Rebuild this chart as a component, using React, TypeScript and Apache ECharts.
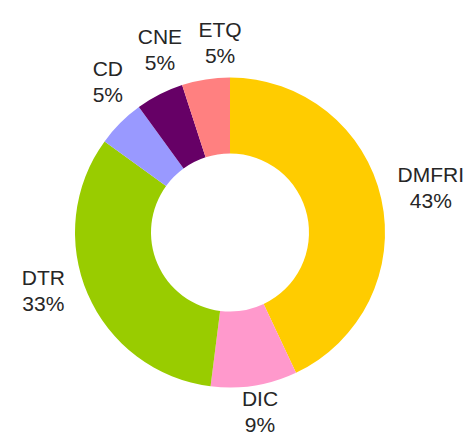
import React, { useEffect, useRef } from "react";
import * as echarts from "echarts";

const categories = ["DMFRI", "DIC", "DTR", "CD", "CNE", "ETQ"];
const values = [43, 9, 33, 5, 5, 5];
const colors = ["#FFCC00", "#FF99CC", "#99CC00", "#9999FF", "#660066", "#FF8080"];

const W = 474;
const H = 440;
const CX = 230;
const CY = 232.5;
const R_IN = 79;
const R_OUT = 155;
const GAP = 14;
const LEFT_LABEL_ROT = (6 * Math.PI) / 180;

export default function App() {
  const ref = useRef<HTMLDivElement>(null);
  useEffect(() => {
    if (!ref.current) return;
    const chart = echarts.init(ref.current, undefined, { renderer: "svg" });
    const total = values.reduce((a, b) => a + b, 0);
    const mids: number[] = [];
    let acc = 0;
    values.forEach((v) => {
      mids.push(((acc + v / 2) / total) * Math.PI * 2);
      acc += v;
    });
    chart.setOption({
      animation: false,
      backgroundColor: "#ffffff",
      series: [
        {
          type: "pie",
          center: [CX, CY],
          radius: [R_IN, R_OUT],
          startAngle: 90,
          clockwise: true,
          avoidLabelOverlap: false,
          data: categories.map((name, i) => ({
            name,
            value: values[i],
            itemStyle: { color: colors[i] },
          })),
          itemStyle: { borderWidth: 0 },
          label: {
            show: true,
            position: "outside",
            formatter: "{b}\n{d}%",
            fontFamily: "Liberation Sans, Arial, sans-serif",
            fontSize: 21,
            lineHeight: 26,
            color: "#262626",
          },
          labelLine: { show: false, length: 10, length2: 0 },
          labelLayout: (params: any) => {
            const mid = mids[params.dataIndex];
            const th = mid > Math.PI ? mid + LEFT_LABEL_ROT : mid;
            const dx = Math.sin(th);
            const dy = -Math.cos(th);
            const w = params.labelRect.width;
            const h = params.labelRect.height;
            const support = (Math.abs(dx) * w) / 2 + (Math.abs(dy) * 40) / 2;
            const r = R_OUT + GAP + support;
            let x = CX + dx * r;
            let y = CY + dy * r;
            x = Math.max(w / 2 + 2, Math.min(W - w / 2 - 2, x));
            y = Math.max(h / 2 + 2, Math.min(H - h / 2 - 3, y));
            return { x, y, align: "center", verticalAlign: "middle" };
          },
        },
      ],
    });
    return () => chart.dispose();
  }, []);
  return (
    <div
      ref={ref}
      style={{ position: "fixed", left: 0, top: 0, width: W, height: H }}
    />
  );
}
